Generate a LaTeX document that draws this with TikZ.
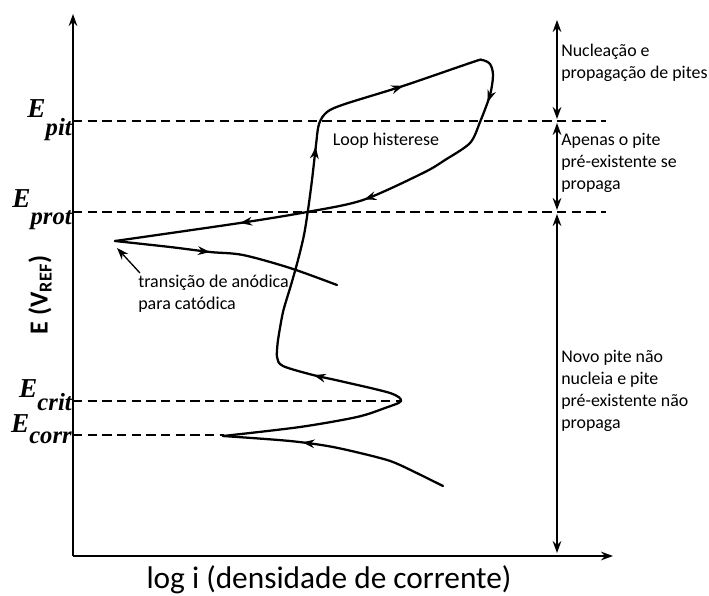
\documentclass[tikz,border=0pt]{standalone}
\usepackage{fontspec}
\setmainfont{Carlito}
\newfontfamily\tnr{Liberation Serif}
\usetikzlibrary{arrows.meta}
\usetikzlibrary{decorations.markings}

\tikzset{
  curva/.style={line width=1.7pt, line cap=round, line join=round, postaction={decorate}},
  eixo/.style={line width=1pt},
  tracejado/.style={line width=0.9pt, dash pattern=on 7pt off 4pt},
  texto/.style={inner sep=0pt, align=left, anchor=west, font=\fontsize{13.5}{16.5}\selectfont},
  regiao/.style={texto, font=\fontsize{13.4}{16.6}\selectfont},
  potencial/.style={inner sep=0pt, anchor=base east, font=\tnr\bfseries\itshape\fontsize{20.5}{20.5}\selectfont},
}
\newcommand{\sub}[2]{\raisebox{-#1}{\fontsize{18.5}{18.5}\selectfont #2}}

\begin{document}
\begin{tikzpicture}[x=0.75pt, y=-0.75pt, >={Stealth[length=9pt,width=6.5pt]}]
  \useasboundingbox (0,0) rectangle (709,595);
  % eixos
  \coordinate (O) at (73,556);
  \coordinate (Ytop) at (73,14);
  \coordinate (Xend) at (613,556);
  \draw[eixo, ->] (O) -- (Ytop);
  \draw[eixo, ->] (O) -- (Xend);
  \node[anchor=base, inner sep=0pt, font=\fontsize{23.5}{23.5}\selectfont] (xlab) at (329,588) {log i (densidade de corrente)};
  \node[rotate=90, font=\bfseries\fontsize{19.5}{19.5}\selectfont] (ylab) at (40,295) {E (V\textsubscript{REF})};

  % potenciais
  \node[potencial] (Epit) at (72,118) {E\sub{13.5pt}{pit}};
  \node[potencial] (Eprot) at (72,207) {E\sub{13pt}{prot}};
  \node[potencial] (Ecrit) at (72,397) {E\sub{10pt}{crit}};
  \node[potencial] (Ecorr) at (72,432) {E\sub{8.5pt}{corr}};
  \draw[tracejado] (73,121) -- (606,121);
  \draw[tracejado] (73,212) -- (606,212);
  \draw[tracejado] (73,401) -- (400,401);
  \draw[tracejado] (73,435) -- (224,435);

  % regioes
  \draw[eixo, <->] (557,20) -- (557,119);
  \draw[eixo, <->] (557,123) -- (557,210);
  \draw[eixo, <->] (557,214) -- (557,553);
  \node[regiao] (reg1) at (561,63) {Nucleação e\\propagação de pites};
  \node[regiao] (reg2) at (561,163) {Apenas o pite\\pré-existente se\\propaga};
  \node[regiao] (reg3) at (561,391) {Novo pite não\\nucleia e pite\\pré-existente não\\propaga};

  % curva de polarizacao
  \draw[curva, decoration={markings, mark=at position 0.65 with {\arrow{>}}}]
    plot[smooth, tension=0.5] coordinates {(443,486) (400,465) (380,458) (333,447) (290,441) (223,436)};
  \draw[curva, decoration={markings, mark=at position 0.82 with {\arrow{>}}}]
    plot[smooth, tension=0.5] coordinates {(223,436) (300,427) (357,417) (385,408) (401,401) (390,393) (340,381) (313,375) (283,366) (277,357) (278,340)};
  \draw[curva, decoration={markings,
      mark=at position 0.228 with {\arrow{>}},
      mark=at position 0.365 with {\arrow{>}},
      mark=at position 0.517 with {\arrow{>}},
      mark=at position 0.708 with {\arrow{>}},
      mark=at position 0.854 with {\arrow{>}}}]
    plot[smooth, tension=0.5] coordinates {(278,340) (283,312) (291,285) (298,260) (304,235) (308,210) (312,180) (316,145) (319,124) (327,112) (345,104) (403,86) (473,62) (482,60) (490,64) (493,75) (490,95) (480,122) (470,143) (445,160) (423,173) (363,200) (307,212) (240,223) (115,241)};
  \draw[curva, decoration={markings, mark=at position 0.42 with {\arrow{>}}}]
    plot[smooth, tension=0.5] coordinates {(115,241) (170,247) (210,252) (243,255) (290,268) (337,285)};

  \node[texto, anchor=center] (loop) at (386,141) {Loop histerese};
  \node[texto] (trans) at (138,294) {transição de anódica\\para catódica};
  \coordinate (virada) at (117,248);
  \draw[eixo, ->] (trans.north west) ++(2,-2) coordinate (tcanto) -- (virada);
\end{tikzpicture}
\end{document}
